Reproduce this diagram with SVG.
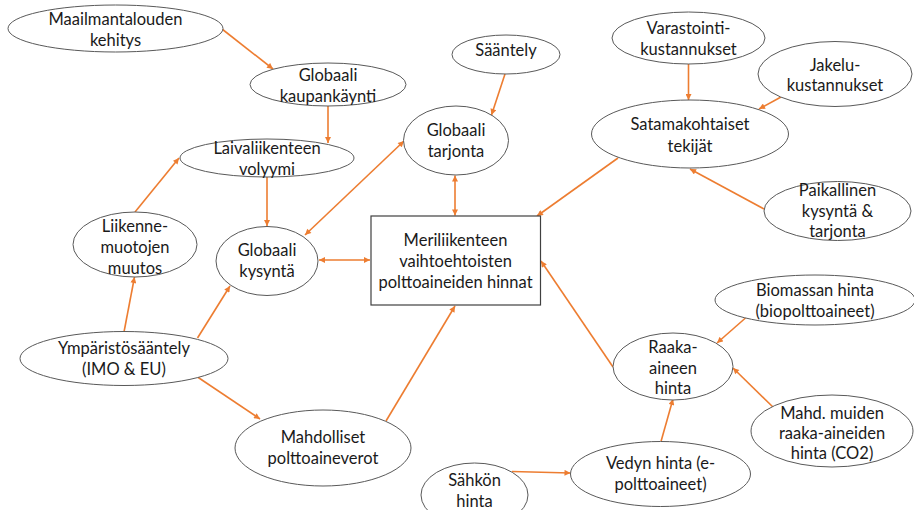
<svg xmlns="http://www.w3.org/2000/svg" width="914" height="510" viewBox="0 0 914 510">
  <style>
    .node ellipse { fill: #ffffff; stroke: #595959; stroke-width: 1; }
    .node rect { fill: #ffffff; stroke: #404040; stroke-width: 1.2; }
    .node text { font-family: Lato, "Liberation Sans", sans-serif; font-size: 16.5px; fill: #1a1a1a; text-anchor: middle; }
    .edge { stroke: #ED7D31; stroke-width: 1.6; fill: none; marker-end: url(#arrow); }
    .both { marker-start: url(#arrow); }
  </style>
  <defs>
    <marker id="arrow" viewBox="0 0 10 10" refX="10" refY="5" markerWidth="7" markerHeight="6" markerUnits="userSpaceOnUse" orient="auto-start-reverse">
      <path d="M0,0 L10,5 L0,10 z" fill="#ED7D31"/>
    </marker>
  </defs>

  <rect width="914" height="510" fill="#ffffff"/>

  <!-- connectors -->
  <g id="connectors">
    <line class="edge" x1="222" y1="29" x2="273" y2="69"/>
    <line class="edge" x1="328" y1="106" x2="328" y2="143"/>
    <line class="edge" x1="267" y1="177" x2="267" y2="226"/>
    <line class="edge" x1="135" y1="212" x2="179" y2="158"/>
    <line class="edge" x1="124" y1="332" x2="134.5" y2="277"/>
    <line class="edge" x1="197.5" y1="338" x2="230" y2="286"/>
    <line class="edge" x1="197.5" y1="377" x2="260" y2="419"/>
    <line class="edge" x1="386" y1="421" x2="455" y2="306"/>
    <line class="edge both" x1="305" y1="235" x2="404" y2="141"/>
    <line class="edge both" x1="319" y1="260" x2="370" y2="260"/>
    <line class="edge" x1="505" y1="74" x2="491.5" y2="115"/>
    <line class="edge both" x1="455" y1="175.5" x2="455" y2="215.5"/>
    <line class="edge" x1="618" y1="158" x2="537" y2="216"/>
    <line class="edge" x1="688.5" y1="64" x2="688.5" y2="100"/>
    <line class="edge" x1="781" y1="97" x2="759" y2="109"/>
    <line class="edge" x1="764" y1="209" x2="690" y2="169"/>
    <line class="edge" x1="613" y1="367" x2="541" y2="261"/>
    <line class="edge" x1="745.5" y1="318" x2="717" y2="343"/>
    <line class="edge" x1="775" y1="409" x2="733" y2="368"/>
    <line class="edge" x1="661" y1="441.5" x2="673" y2="399"/>
    <line class="edge" x1="512" y1="471.5" x2="570.5" y2="473"/>
  </g>

  <!-- central node -->
  <g id="n-hinnat" class="node">
    <rect x="371" y="216" width="169.5" height="89"/>
    <text x="455.5" y="246">Meriliikenteen</text>
    <text x="455.5" y="267">vaihtoehtoisten</text>
    <text x="455.5" y="288">polttoaineiden hinnat</text>
  </g>

  <g id="n-maailmantalous" class="node">
    <ellipse cx="115.5" cy="28.5" rx="107.5" ry="23.5"/>
    <text x="115.5" y="25">Maailmantalouden</text>
    <text x="115.5" y="46">kehitys</text>
  </g>

  <g id="n-kaupankaynti" class="node">
    <ellipse cx="328" cy="84.5" rx="78" ry="21.5"/>
    <text x="328" y="81">Globaali</text>
    <text x="328" y="102">kaupankäynti</text>
  </g>

  <g id="n-laivaliikenne" class="node">
    <ellipse cx="267" cy="158" rx="87" ry="19"/>
    <text x="267" y="154">Laivaliikenteen</text>
    <text x="267" y="175">volyymi</text>
  </g>

  <g id="n-liikennemuodot" class="node">
    <ellipse cx="135" cy="244.5" rx="62" ry="32.5"/>
    <text x="135" y="232">Liikenne-</text>
    <text x="135" y="253">muotojen</text>
    <text x="135" y="274">muutos</text>
  </g>

  <g id="n-kysynta" class="node">
    <ellipse cx="267" cy="261" rx="51" ry="34.5"/>
    <text x="267" y="256">Globaali</text>
    <text x="267" y="277">kysyntä</text>
  </g>

  <g id="n-ymparisto" class="node">
    <ellipse cx="124" cy="358.5" rx="104" ry="27"/>
    <text x="124" y="354">Ympäristösääntely</text>
    <text x="124" y="375">(IMO &amp; EU)</text>
  </g>

  <g id="n-verot" class="node">
    <ellipse cx="323" cy="448" rx="88" ry="38"/>
    <text x="323" y="443">Mahdolliset</text>
    <text x="323" y="464">polttoaineverot</text>
  </g>

  <g id="n-sahko" class="node">
    <ellipse cx="474.5" cy="495" rx="53.5" ry="32"/>
    <text x="474.5" y="486">Sähkön</text>
    <text x="474.5" y="507">hinta</text>
  </g>

  <g id="n-saantely" class="node">
    <ellipse cx="506" cy="54.5" rx="54" ry="19.5"/>
    <text x="506" y="56">Sääntely</text>
  </g>

  <g id="n-tarjonta" class="node">
    <ellipse cx="456" cy="140.5" rx="52.5" ry="34.5"/>
    <text x="456" y="136">Globaali</text>
    <text x="456" y="157">tarjonta</text>
  </g>

  <g id="n-varastointi" class="node">
    <ellipse cx="688.5" cy="38" rx="76.5" ry="26"/>
    <text x="688.5" y="34">Varastointi-</text>
    <text x="688.5" y="55">kustannukset</text>
  </g>

  <g id="n-jakelu" class="node">
    <ellipse cx="835" cy="74" rx="77" ry="32.5"/>
    <text x="835" y="71">Jakelu-</text>
    <text x="835" y="91">kustannukset</text>
  </g>

  <g id="n-satama" class="node">
    <ellipse cx="690" cy="134" rx="98.5" ry="34"/>
    <text x="690" y="130">Satamakohtaiset</text>
    <text x="690" y="152">tekijät</text>
  </g>

  <g id="n-paikallinen" class="node">
    <ellipse cx="837.5" cy="211" rx="73.5" ry="29.5"/>
    <text x="837.5" y="196">Paikallinen</text>
    <text x="837.5" y="217">kysyntä &amp;</text>
    <text x="837.5" y="237">tarjonta</text>
  </g>

  <g id="n-biomassa" class="node">
    <ellipse cx="815" cy="300" rx="100" ry="25"/>
    <text x="815" y="296">Biomassan hinta</text>
    <text x="815" y="317">(biopolttoaineet)</text>
  </g>

  <g id="n-raaka-aine" class="node">
    <ellipse cx="673" cy="366.5" rx="60" ry="33.5"/>
    <text x="673" y="353">Raaka-</text>
    <text x="673" y="374">aineen</text>
    <text x="673" y="394">hinta</text>
  </g>

  <g id="n-muut" class="node">
    <ellipse cx="832" cy="431" rx="81" ry="36"/>
    <text x="832" y="419">Mahd. muiden</text>
    <text x="832" y="439">raaka-aineiden</text>
    <text x="832" y="459">hinta (CO2)</text>
  </g>

  <g id="n-vety" class="node">
    <ellipse cx="660.5" cy="474" rx="90" ry="32.5"/>
    <text x="660.5" y="469">Vedyn hinta (e-</text>
    <text x="660.5" y="490">polttoaineet)</text>
  </g>
</svg>
